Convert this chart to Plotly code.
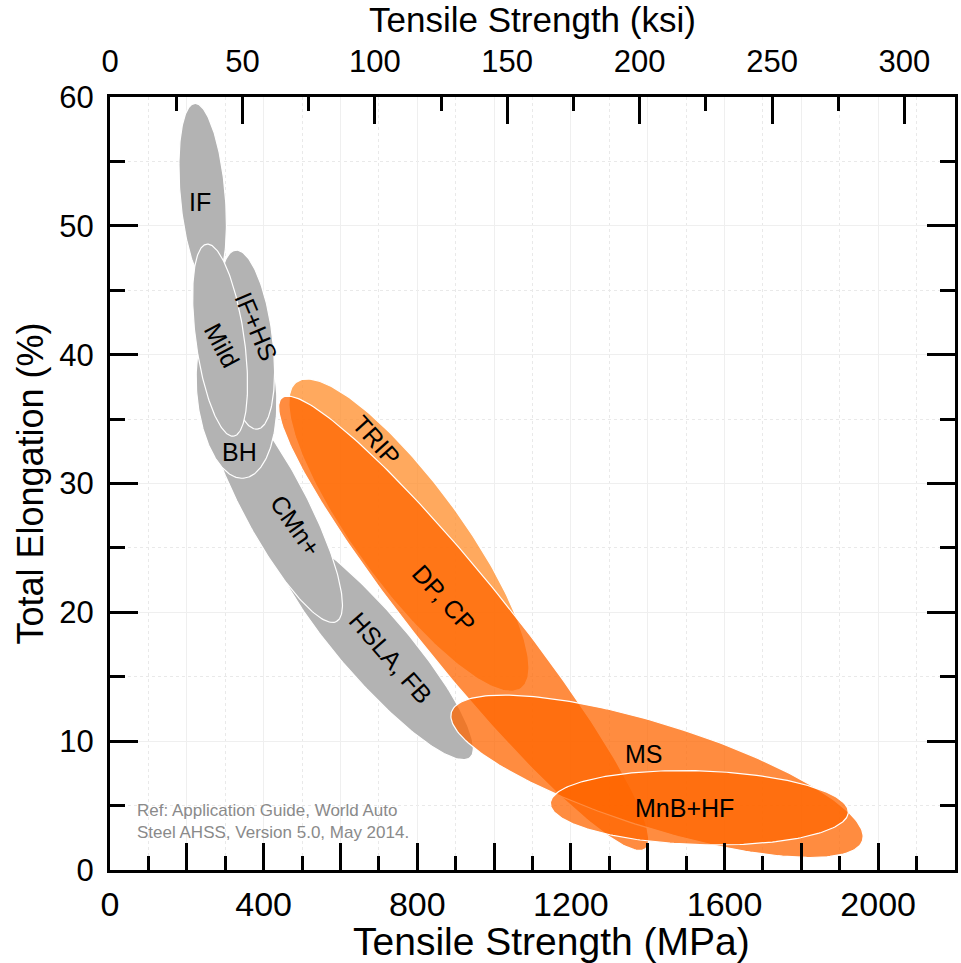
import numpy as np
import plotly.graph_objects as go

# Steel grade families: long-axis end points of each envelope
# (tensile strength in MPa, total elongation in %) and width/length ratio.
GRADES = ["HSLA, FB", "CMn+", "IF", "BH", "IF+HS", "Mild", "TRIP", "DP, CP", "MS", "MnB+HF"]
MPA_START = [427.0, 261.2, 220.5, 311.3, 326.8, 251.6, 485.3, 447.7, 889.0, 1146.6]
ELONG_START = [26.32, 37.80, 59.50, 44.08, 48.11, 48.58, 37.87, 36.65, 12.26, 5.18]
MPA_END = [937.5, 589.6, 262.0, 347.6, 383.9, 321.7, 1071.1, 1394.0, 1959.3, 1922.2]
ELONG_END = [8.73, 19.29, 45.27, 30.41, 34.22, 33.67, 14.11, 1.65, 2.29, 4.48]
WIDTH_RATIO = [0.227, 0.237, 0.245, 0.453, 0.29, 0.25, 0.275, 0.155, 0.241, 0.247]
GROUP = ["mild", "mild", "mild", "mild", "mild", "mild", "ahss", "ahss", "ahss", "ahss"]

# Label anchor points (MPa, %) and text rotation
LABEL_MPA = [731.5, 482.5, 233.5, 337.2, 381.3, 290.5, 692.6, 869.0, 1390.4, 1496.8]
LABEL_ELONG = [16.44, 26.77, 51.84, 32.43, 42.14, 40.74, 33.36, 21.10, 8.98, 4.80]
LABEL_ANGLE = [49, 55, 0, 0, 67, 62, 48, 48, 0, 0]

# Axes
MPA_RANGE = [0, 2200]
ELONG_RANGE = [0, 60]
MPA_PER_KSI = 6.894757
MPA_TICKS = list(range(0, 2201, 200))
MPA_TICK_TEXT = [str(v) if v % 400 == 0 and v <= 2000 else "" for v in MPA_TICKS]
MPA_MINOR = list(range(100, 2200, 200))
KSI_TICKS = list(range(0, 301, 50))
KSI_MINOR = list(range(25, 320, 50))
ELONG_TICKS = list(range(0, 61, 10))
ELONG_MINOR = list(range(5, 60, 10))

FILL = {
    "mild": "#b3b3b3",
    "TRIP": "rgba(255,140,40,0.75)",
    "ahss": "rgba(255,102,0,0.75)",
}

W, H = 961, 963
M_L, M_R, M_T, M_B = 110, 3, 97, 93
PLOT_W, PLOT_H = W - M_L - M_R, H - M_T - M_B
kx = PLOT_W / (MPA_RANGE[1] - MPA_RANGE[0])
ky = PLOT_H / (ELONG_RANGE[1] - ELONG_RANGE[0])


def envelope(x1, y1, x2, y2, ratio, n=240):
    """Ellipse through two long-axis end points, round in screen space."""
    p1 = np.array([x1 * kx, y1 * ky])
    p2 = np.array([x2 * kx, y2 * ky])
    c = (p1 + p2) / 2
    half = (p2 - p1) / 2
    a = np.hypot(*half)
    u = half / a
    v = np.array([-u[1], u[0]])
    b = ratio * a
    t = np.linspace(0, 2 * np.pi, n)
    pts = c + np.outer(np.cos(t), a * u) + np.outer(np.sin(t), b * v)
    return pts[:, 0] / kx, pts[:, 1] / ky


fig = go.Figure()
for i, name in enumerate(GRADES):
    xs, ys = envelope(MPA_START[i], ELONG_START[i], MPA_END[i], ELONG_END[i], WIDTH_RATIO[i])
    color = FILL["TRIP"] if name == "TRIP" else FILL[GROUP[i]]
    fig.add_trace(go.Scatter(
        x=xs, y=ys, mode="lines", fill="toself", fillcolor=color,
        line=dict(color="white", width=1.2), name=name, hoverinfo="name",
        showlegend=False,
    ))

# Invisible companion trace so the ksi scale is drawn along the top
fig.add_trace(go.Scatter(
    x=[v / MPA_PER_KSI for v in MPA_RANGE], y=ELONG_RANGE, xaxis="x2", yaxis="y",
    mode="markers", marker=dict(opacity=0), hoverinfo="skip", showlegend=False,
))

for i, name in enumerate(GRADES):
    fig.add_annotation(
        x=LABEL_MPA[i], y=LABEL_ELONG[i], xref="x", yref="y", text=name,
        showarrow=False, textangle=LABEL_ANGLE[i],
        font=dict(size=25, color="black"),
    )

fig.add_annotation(
    x=(135 - M_L) / PLOT_W, y=0.0625, xref="paper", yref="paper",
    text="Ref: Application Guide, World Auto<br>Steel AHSS, Version 5.0, May 2014.",
    showarrow=False, xanchor="left", yanchor="middle", align="left",
    font=dict(size=17, color="#8a8a8a"),
)

# Bottom axis title, placed as a free label
fig.add_annotation(
    x=0.522, y=-0.093, xref="paper", yref="paper", text="Tensile Strength (MPa)",
    showarrow=False, xanchor="center", yanchor="middle",
    font=dict(size=39, color="black"),
)

FONT = "Liberation Sans, Arial, sans-serif"
tick_common = dict(ticks="inside", tickwidth=3, tickcolor="black",
                   showline=True, linewidth=3, linecolor="black", zeroline=False)

fig.update_layout(
    width=W, height=H,
    margin=dict(l=M_L, r=M_R, t=M_T, b=M_B),
    paper_bgcolor="white", plot_bgcolor="white",
    font=dict(family=FONT, color="black"),
    xaxis=dict(
        range=MPA_RANGE, tickmode="array", tickvals=MPA_TICKS, ticktext=MPA_TICK_TEXT,
        ticklen=27, showgrid=True, gridcolor="#efefef", gridwidth=1,
        minor=dict(tickmode="array", tickvals=MPA_MINOR, ticks="inside", ticklen=14,
                   tickwidth=3, tickcolor="black", showgrid=True,
                   gridcolor="#e9e9e9", griddash="dot"),
        tickfont=dict(size=34, color="black"), ticklabelstandoff=2,
        **tick_common,
    ),
    xaxis2=dict(
        overlaying="x", side="top", anchor="y",
        range=[MPA_RANGE[0] / MPA_PER_KSI, MPA_RANGE[1] / MPA_PER_KSI],
        tickmode="array", tickvals=KSI_TICKS, ticklen=27, showgrid=False,
        minor=dict(tickmode="array", tickvals=KSI_MINOR, ticks="inside", ticklen=14,
                   tickwidth=3, tickcolor="black", showgrid=False),
        tickfont=dict(size=31, color="black"), ticklabelstandoff=10,
        title=dict(text="Tensile Strength (ksi)", font=dict(size=35), standoff=8),
        **tick_common,
    ),
    yaxis=dict(
        range=ELONG_RANGE, tickmode="array", tickvals=ELONG_TICKS, ticklen=28,
        mirror="ticks", showgrid=True, gridcolor="#efefef", gridwidth=1,
        minor=dict(tickmode="array", tickvals=ELONG_MINOR, ticks="inside", ticklen=15,
                   tickwidth=3, tickcolor="black", showgrid=True,
                   gridcolor="#e9e9e9", griddash="dot"),
        tickfont=dict(size=31, color="black"), ticklabelstandoff=7,
        title=dict(text="Total Elongation (%)", font=dict(size=36), standoff=5),
        **tick_common,
    ),
)

fig.write_html("out.html")
